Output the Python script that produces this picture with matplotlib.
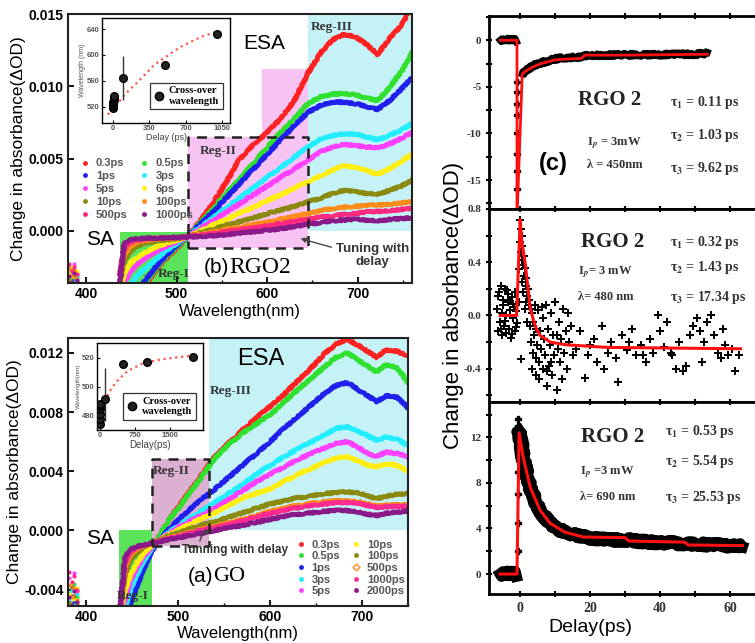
import numpy as np
import matplotlib
matplotlib.use("Agg")
from matplotlib import pyplot as plt
from matplotlib.lines import Line2D
from matplotlib.ticker import MultipleLocator, FormatStrFormatter

plt.rcParams["font.family"] = "Liberation Sans"
plt.rcParams["font.weight"] = "bold"
plt.rcParams["axes.unicode_minus"] = False
plt.rcParams["mathtext.fontset"] = "stix"
SERIF = "Liberation Serif"

# ---------------- panel (b): RGO2 spectra, values in 1e-3 OD
labels_b = ["0.3ps", "0.5ps", "1ps", "3ps", "5ps", "6ps", "10ps", "100ps", "500ps", "1000ps"]
colors_b = ["#ff2222", "#2fe02f", "#2020ee", "#22eeff", "#ff40ff",
            "#ffee11", "#8a8a10", "#ff8c1a", "#ff2a80", "#8a1a8a"]
wl_b = [437, 442, 448, 455, 465, 478, 490, 502, 512, 525, 540, 555, 570, 585,
        600, 615, 630, 645, 660, 672, 685, 698, 710, 722, 735, 748, 760]
red_b = [-8.0, -7.3, -6.3, -5.2, -3.8, -2.6, -1.8, -1.1, -0.4, 0.6, 1.9, 3.4, 5.0, 6.0,
         6.8, 7.8, 9.0, 10.9, 12.4, 13.2, 13.6, 13.4, 12.9, 12.2, 13.3, 14.2, 15.6]
green_b = [-8.0, -6.2, -5.2, -4.4, -3.6, -2.5, -1.7, -1.0, -0.4, 0.5, 1.5, 2.6, 3.6, 4.7,
           5.8, 6.8, 7.8, 8.8, 9.3, 9.45, 9.5, 9.4, 9.2, 9.0, 9.9, 11.0, 12.3]
blue_b = [-8.0, -6.0, -5.0, -4.2, -3.4, -2.4, -1.6, -0.9, -0.4, 0.4, 1.3, 2.3, 3.3, 4.3,
          5.3, 6.3, 7.3, 8.2, 8.7, 8.9, 8.9, 8.8, 8.6, 8.4, 9.0, 9.8, 10.6]
cyan_b = [-7.0, -4.6, -3.8, -3.2, -2.6, -1.9, -1.3, -0.8, -0.4, 0.2, 0.9, 1.6, 2.3, 3.0,
          3.7, 4.4, 5.1, 5.8, 6.4, 6.6, 6.7, 6.7, 6.5, 6.3, 6.6, 7.0, 7.4]
mag_b = [-5.5, -3.6, -2.9, -2.4, -1.9, -1.4, -1.0, -0.7, -0.4, 0.1, 0.7, 1.3, 1.9, 2.5,
         3.1, 3.7, 4.3, 4.9, 5.5, 5.8, 6.0, 5.9, 5.8, 5.75, 6.0, 6.4, 6.8]
yel_b = [-4.5, -2.9, -2.3, -1.9, -1.5, -1.1, -0.8, -0.6, -0.4, -0.05, 0.4, 0.8, 1.25, 1.65,
         2.1, 2.5, 2.95, 3.4, 3.85, 4.2, 4.5, 4.4, 4.2, 3.9, 4.3, 4.8, 5.3]
olive_b = [-3.6, -2.0, -1.5, -1.1, -0.85, -0.7, -0.6, -0.5, -0.4, -0.15, 0.1, 0.4, 0.65, 0.9,
           1.2, 1.45, 1.7, 2.0, 2.3, 2.6, 2.8, 2.7, 2.6, 2.55, 2.8, 3.1, 3.5]
orange_b = [-3.0, -1.6, -1.1, -0.8, -0.65, -0.55, -0.5, -0.45, -0.4, -0.25, -0.1, 0.1, 0.25, 0.45,
            0.6, 0.8, 1.0, 1.2, 1.4, 1.55, 1.65, 1.7, 1.75, 1.8, 1.85, 1.95, 2.0]
pink_b = [-3.0, -1.2, -0.8, -0.65, -0.55, -0.5, -0.45, -0.45, -0.4, -0.3, -0.2, -0.05, 0.1, 0.2,
          0.35, 0.5, 0.65, 0.8, 0.95, 1.05, 1.15, 1.2, 1.3, 1.35, 1.4, 1.5, 1.55]
purple_b = [-3.6, -0.9, -0.6, -0.55, -0.5, -0.5, -0.45, -0.45, -0.4, -0.4, -0.35, -0.25, -0.15, -0.05,
            0.05, 0.15, 0.3, 0.45, 0.6, 0.7, 0.75, 0.8, 0.75, 0.7, 0.8, 0.85, 0.9]
series_b = [red_b, green_b, blue_b, cyan_b, mag_b, yel_b, olive_b, orange_b, pink_b, purple_b]
edge_wl = [381, 384, 387, 390]
edge_b = [[-3.3, -2.6, -3.0, -3.5], [-2.9, -3.4, -2.5, -3.2], [-3.5, -3.0, -3.3, -3.6],
          [-3.2, -2.8, -3.5, -3.1], [-2.4, -2.9, -2.3, -3.0], [-3.0, -2.5, -3.2, -2.8],
          [-3.4, -2.7, -3.1, -3.5], [-2.6, -3.1, -2.7, -3.3], [-2.3, -2.8, -2.5, -3.0],
          [-3.1, -3.5, -2.9, -3.4]]

# inset (b): cross-over wavelength vs delay (error bar on the 100 ps point)
delay_ib = [0.3, 0.5, 1, 3, 5, 6, 10, 100, 500, 1000]
cross_ib = [518, 521, 524, 528, 531, 534, 537, 565, 585, 632]
err_idx_ib = 7
err_ib = [34, 33]
fit_delay_ib = [-50, 20, 120, 230, 400, 645, 850, 1000]
fit_cross_ib = [508, 520, 540, 557, 585, 612, 628, 636]

# ---------------- panel (a): GO spectra, values in 1e-3 OD
labels_a = ["0.3ps", "0.5ps", "1ps", "3ps", "5ps", "10ps", "100ps", "500ps", "1000ps", "2000ps"]
colors_a = ["#ff2222", "#2fe02f", "#2020ee", "#22eeff", "#ff40ff",
            "#ffee11", "#8a8a10", "#ff8c1a", "#ff2a90", "#8a1a8a"]
wl_a = [437, 442, 448, 455, 463, 471, 480, 490, 500, 512, 525, 540, 555, 570,
        585, 600, 615, 630, 645, 660, 672, 684, 696, 706, 716, 726, 738, 750]
red_a = [-7.0, -6.0, -4.8, -3.6, -2.3, -1.2, -0.3, 0.7, 1.6, 2.6, 3.7, 5.0, 5.9, 6.8,
         7.6, 8.4, 9.2, 10.1, 11.0, 12.0, 12.6, 12.9, 12.5, 12.1, 11.7, 12.2, 12.1, 11.8]
green_a = [-7.0, -6.0, -4.8, -3.6, -2.3, -1.2, -0.3, 0.7, 1.5, 2.5, 3.6, 4.9, 5.8, 6.6,
           7.2, 7.8, 8.7, 9.5, 10.3, 11.1, 11.7, 12.0, 11.5, 11.1, 10.7, 11.2, 11.0, 10.0]
blue_a = [-7.0, -6.0, -4.9, -3.8, -2.5, -1.4, -0.6, 0.1, 0.7, 1.4, 2.1, 2.8, 3.6, 4.4,
          5.2, 6.0, 6.9, 7.7, 8.5, 9.3, 9.8, 10.0, 9.5, 9.1, 8.7, 9.1, 9.0, 8.3]
cyan_a = [-6.5, -5.2, -4.0, -3.0, -2.0, -1.2, -0.6, -0.1, 0.3, 0.8, 1.3, 1.9, 2.5, 3.1,
          3.8, 4.4, 5.0, 5.5, 6.0, 6.5, 6.9, 7.0, 6.7, 6.4, 6.1, 6.3, 6.2, 5.7]
mag_a = [-6.0, -4.6, -3.4, -2.5, -1.7, -1.1, -0.6, -0.2, 0.2, 0.6, 1.0, 1.5, 2.1, 2.7,
         3.3, 3.8, 4.3, 4.8, 5.2, 5.6, 5.9, 6.0, 5.6, 5.2, 5.0, 5.3, 5.2, 5.0]
yel_a = [-5.5, -4.0, -3.0, -2.2, -1.5, -1.0, -0.6, -0.3, 0.05, 0.4, 0.8, 1.2, 1.7, 2.2,
         2.5, 2.8, 3.3, 3.8, 4.2, 4.6, 4.9, 5.0, 4.7, 4.4, 4.3, 4.5, 4.4, 4.0]
olive_a = [-5.0, -3.0, -2.0, -1.5, -1.1, -0.85, -0.6, -0.35, -0.15, 0.1, 0.35, 0.6, 0.9, 1.2,
           1.5, 1.8, 2.0, 2.2, 2.35, 2.5, 2.55, 2.6, 2.55, 2.35, 2.15, 2.3, 2.45, 2.5]
orange_a = [-5.0, -2.5, -1.6, -1.25, -1.0, -0.85, -0.7, -0.5, -0.35, -0.15, 0.05, 0.3, 0.5, 0.75,
            1.0, 1.3, 1.5, 1.7, 1.85, 1.95, 2.0, 2.0, 1.95, 1.8, 1.65, 1.7, 1.75, 1.7]
pink_a = [-5.0, -2.2, -1.4, -1.15, -1.0, -0.85, -0.7, -0.55, -0.4, -0.2, 0.0, 0.2, 0.4, 0.65,
          0.9, 1.15, 1.35, 1.55, 1.7, 1.8, 1.85, 1.9, 1.85, 1.7, 1.55, 1.6, 1.65, 1.6]
purple_a = [-5.0, -1.8, -1.25, -1.1, -0.95, -0.85, -0.75, -0.6, -0.5, -0.35, -0.2, 0.0, 0.2, 0.35,
            0.55, 0.75, 0.95, 1.1, 1.2, 1.3, 1.35, 1.35, 1.25, 1.1, 1.0, 1.15, 1.25, 1.3]
series_a = [red_a, green_a, blue_a, cyan_a, mag_a, yel_a, olive_a, orange_a, pink_a, purple_a]
edge_a = [[-4.8, -3.9, -4.4, -5.0], [-4.2, -4.9, -3.6, -4.5], [-5.0, -4.4, -4.8, -5.1],
          [-4.6, -4.0, -5.0, -4.3], [-3.2, -3.8, -2.9, -4.1], [-4.3, -3.5, -4.6, -3.9],
          [-4.9, -3.8, -4.4, -5.0], [-3.7, -4.5, -3.9, -4.7], [-2.8, -3.5, -3.1, -4.0],
          [-4.5, -5.0, -4.1, -4.8]]

# inset (a) (error bar on the 100 ps point)
delay_ia = [0.3, 0.5, 1, 3, 5, 10, 100, 500, 1000, 2000]
cross_ia = [474, 477, 481, 484, 486, 488, 491, 516, 517, 521]
err_idx_ia = 6
err_ia = [15, 22]
fit_delay_ia = [0, 100, 250, 400, 600, 900, 1300, 1800, 2100]
fit_cross_ia = [482, 490, 499, 505, 511, 516, 519, 521, 522]

# ---------------- panel (c): kinetics of RGO2
# 450 nm probe
base1_t = [-5.7, -3.5, -1.0]
base1_v = [0.0, 0.1, 0.0]
drop1_v = [-4.5, -5.5, -6.8, -8.0, -10.0, -12.2, -14.0, -16.0]
decay1_t = [0.6, 1.5, 2.5, 4, 6, 8, 10, 13, 17, 20, 25, 30, 35, 40, 45, 50, 53.5]
decay1_v = [-3.6, -3.3, -3.0, -2.7, -2.4, -2.2, -2.0, -1.9, -1.8, -1.6, -1.6, -1.55,
            -1.6, -1.55, -1.5, -1.5, -1.4]
fit1_t = [-5.7, -0.9, -0.9, 0.6, 2, 4, 6, 8, 10, 14, 17.5, 18.5, 30, 53.5]
fit1_v = [0, 0, -19, -3.6, -3.2, -2.8, -2.5, -2.3, -2.1, -2.0, -1.95, -1.6, -1.6, -1.5]

# 480 nm probe (scattered points)
scat2_t = [-6.5, -6.2, -6.0, -5.8, -5.6, -5.3, -5.1, -4.9, -4.6, -4.4, -4.1, -3.9, -3.6, -3.4,
           -3.1, -2.9, -2.6, -2.4, -2.1, -1.9, -1.6, -1.4, -1.1, -0.9, -6.3, -5.5, -4.8, -4.2,
           -3.7, -3.0, -2.3, -1.7, -1.2,
           -0.4, -0.2, 0.0, 0.1, 0.2, 0.3, 0.4, 0.5, 0.6, 0.8, 1.0, 1.2, 1.4, 1.6, 1.8, 2.0,
           2.2, 2.4, 0.2, 0.5, 0.9, 1.3, 1.7, 2.1,
           2.6, 2.8, 3.0, 3.2, 3.4, 3.6, 3.8, 4.0, 4.2, 4.4, 4.6, 4.8, 5.0, 5.3, 5.6, 5.9, 6.2,
           6.5, 6.8, 7.1, 7.4, 7.7, 8.0, 8.3, 8.6, 8.9, 9.2, 9.5, 9.8, 10.1, 10.4, 10.7, 11.0,
           11.4, 11.8, 12.2, 12.6, 13.0, 13.5, 14.0, 14.5, 15.0, 3.3, 4.5, 5.5, 6.6, 7.6, 8.8,
           10.5, 12.0, 13.8,
           16, 17, 18.5, 19.5, 21, 22, 23.5, 25, 26, 27.5, 28, 29, 30.5, 32, 33, 34.5, 36, 37,
           38, 39.5, 41, 42, 43.5, 44.5, 45.5, 46.5, 47.5, 48.5, 49.5, 50.5, 51.5, 52.5, 53.5,
           54.5, 55.5, 56.5, 57.5, 58.5, 59.5, 60.5, 61.5, 62.5, 20, 24, 31, 35, 40, 43, 52, 58]
scat2_v = [0.05, -0.12, 0.18, -0.05, 0.22, 0.02, -0.15, 0.12, -0.08, 0.20, 0.00, -0.13, 0.10,
           0.16, -0.10, 0.04, -0.17, 0.14, -0.02, 0.09, -0.12, 0.18, 0.03, -0.06, 0.15, -0.10,
           0.08, -0.04, 0.19, 0.11, -0.14, 0.06, -0.09,
           0.10, 0.35, 0.55, 0.72, 0.65, 0.48, 0.60, 0.42, 0.52, 0.38, 0.45, 0.30, 0.36, 0.22,
           0.28, 0.15, 0.20, 0.08, -0.33, 0.25, 0.18, 0.05, 0.10, -0.05,
           0.12, -0.08, 0.05, -0.20, 0.02, -0.28, -0.05, -0.15, 0.08, -0.32, -0.10, -0.22, 0.04,
           -0.35, -0.12, -0.25, 0.06, -0.40, -0.18, -0.30, 0.08, -0.53, -0.10, -0.38, -0.22,
           0.02, -0.45, -0.15, -0.30, 0.10, -0.56, -0.25, -0.05, -0.35, -0.18, 0.05, -0.28,
           -0.12, -0.40, -0.20, -0.08, -0.30, -0.40, -0.45, -0.48, -0.02, -0.42, -0.35, -0.15,
           -0.48, 0.02,
           -0.25, -0.12, -0.47, -0.30, -0.18, -0.35, -0.08, -0.28, -0.20, -0.32, -0.50, -0.15,
           -0.26, -0.10, -0.30, -0.22, -0.35, -0.18, -0.28, 0.00, -0.24, -0.05, -0.30, -0.40,
           -0.20, -0.42, -0.38, -0.15, -0.08, -0.02, -0.12, -0.20, -0.05, 0.00, -0.15, -0.28,
           -0.32, -0.22, -0.30, -0.25, -0.42, -0.30, -0.22, -0.40, -0.20, -0.30, -0.12, -0.28,
           -0.35, -0.10]
fit2_t = [-5.7, -1.0, 0.0, 0.5, 1.4, 2.9, 4.3, 5.7, 8.6, 13, 25, 63]
fit2_v = [0, 0, 0.72, 0.55, 0.4, 0.05, -0.08, -0.15, -0.2, -0.22, -0.24, -0.25]

# 690 nm probe
base3_t = [-5.7, -3.5, -1.0]
base3_v = [0.0, 0.1, 0.0]
rise3_v = [2.0, 4.5, 7.0, 9.0, 11.0, 13.0, 13.6]
decay3_t = [-0.3, 0.3, 0.9, 1.5, 2.2, 2.9, 4, 5, 5.7, 7, 8.6, 10.5, 12.6, 15, 18, 22, 26,
            30, 35, 40, 45, 50, 55, 60, 63.5]
decay3_v = [12.6, 11.5, 10.2, 9.2, 8.3, 7.6, 6.6, 6.0, 5.6, 5.0, 4.45, 4.0, 3.7, 3.45, 3.25,
            3.1, 3.0, 3.0, 2.85, 2.75, 2.7, 2.65, 2.55, 2.5, 2.5]
fit3_t = [-5.7, -0.9, -0.3, 0.9, 2.9, 5.7, 8.6, 12.6, 18, 30, 31, 47, 48, 63.5]
fit3_v = [0, 0, 12.4, 10.2, 7.6, 5.6, 4.45, 3.7, 3.25, 3.2, 2.9, 2.8, 2.55, 2.5]


def rect(l, t, r, b):
    return [l / 755, 1 - b / 643, (r - l) / 755, (b - t) / 643]


def style_spec(ax):
    for s in ax.spines.values():
        s.set_linewidth(1.5)
        s.set_color("#222222")
    ax.tick_params(direction="in", length=4, width=1.3, labelsize=10, pad=3)
    ax.tick_params(which="minor", direction="in", length=2.5, width=1)
    ax.xaxis.set_minor_locator(MultipleLocator(50))
    ax.yaxis.set_major_formatter(FormatStrFormatter("%.3f"))


def draw_spec(ax, wl, series, colors, edges):
    for vals, ev, col in zip(series, edges, colors):
        ln, = ax.plot(wl, np.array(vals) * 1e-3, color=col, lw=3.2, zorder=2)
        ln.set_sketch_params(scale=0.9, length=1.5, randomness=3)
        ax.plot(edge_wl, np.array(ev) * 1e-3, "o", color=col, ms=3, mew=0, zorder=2)


def draw_inset(rc, delay, cross, ei, err, fd, fc, xt, yt, xlim, ylim, xl, yl, xfs, yfs, leg_anchor):
    ai = fig.add_axes(rc)
    ai.plot(fd, fc, ":", color="#ff5555", lw=1.6, zorder=1)
    ai.errorbar([delay[ei]], [cross[ei]], yerr=[[err[0]], [err[1]]],
                fmt="none", ecolor="#333333", elinewidth=1, zorder=1)
    ai.plot(delay, cross, "o", color="#222222", mec="k", ms=5.5, zorder=3)
    ai.set_xticks(xt)
    ai.set_yticks(yt)
    ai.set_xlim(*xlim)
    ai.set_ylim(*ylim)
    ai.tick_params(direction="in", length=2, width=0.8, labelsize=5.5, pad=1.5,
                   labelcolor="#555555")
    for s in ai.spines.values():
        s.set_linewidth(1)
    ai.set_xlabel(xl, fontsize=xfs, labelpad=0.5, color="#444444")
    ai.set_ylabel(yl, fontsize=yfs, labelpad=1, color="#555555")
    h = Line2D([], [], marker="o", ls="none", color="#222222", mec="k", ms=6)
    lg = ai.legend([h], ["Cross-over\nwavelength"], loc="lower right", bbox_to_anchor=leg_anchor,
                   frameon=True, fancybox=False, edgecolor="k", handletextpad=0.5,
                   borderpad=0.35, handlelength=1.0,
                   prop={"family": SERIF, "weight": "bold", "size": 7.5})
    lg.get_frame().set_linewidth(0.9)
    return ai


fig = plt.figure(figsize=(7.55, 6.43), dpi=100)

# ================= panel (b)
axb = fig.add_axes(rect(68, 14, 412, 283))
axb.fill_between([437, 513], -0.0036, -0.0001, color="#5be35b", lw=0, zorder=0)
axb.fill_between([513, 645], -0.00117, 0.0065, color="#f6c3f2", lw=0, zorder=0)
axb.fill_between([594, 645], 0.0065, 0.0112, color="#f6c3f2", lw=0, zorder=0)
axb.fill_between([645, 760], 0.0, 0.015, color="#c4f2f7", lw=0, zorder=0)
draw_spec(axb, wl_b, series_b, colors_b, edge_b)
axb.plot([513, 645, 645, 513, 513], [-0.00117, -0.00117, 0.0065, 0.0065, -0.00117],
         ls=(0, (4, 3)), color="#222222", lw=1.8, zorder=3)
axb.set_xlim(380, 760)
axb.set_ylim(-0.0036, 0.015)
axb.set_xticks([400, 500, 600, 700])
axb.set_yticks([0.0, 0.005, 0.010, 0.015])
style_spec(axb)
axb.set_xlabel("Wavelength(nm)", fontsize=12, labelpad=2)
axb.set_ylabel("Change in absorbance(ΔOD)", fontsize=12.5, labelpad=2)
axb.text(597, 0.01295, "ESA", fontsize=15, weight="normal", ha="center", va="center")
axb.text(415, -0.0006, "SA", fontsize=15, weight="normal", ha="center", va="center")
axb.text(671, 0.0141, "Reg-III", family=SERIF, fontsize=9.5, ha="center", va="center", color="#333333")
axb.text(546, 0.0055, "Reg-II", family=SERIF, fontsize=9.5, ha="center", va="center", color="#333333")
axb.text(497, -0.0030, "Reg-I", family=SERIF, fontsize=9.5, ha="center", va="center", color="#333333")
axb.text(558, -0.0025, "(b)", fontsize=15, weight="normal", ha="right", va="center")
axb.text(558, -0.0025, "RGO2", family=SERIF, fontsize=17, weight="normal", ha="left", va="center")
axb.text(716, -0.0017, "Tuning with\ndelay", fontsize=9.5, ha="center", va="center",
         color="#333333", linespacing=1.1)
axb.annotate("", xy=(634, -0.00048), xytext=(674, -0.00118),
             arrowprops=dict(arrowstyle="-|>", color="#444444", lw=1, mutation_scale=7))
hb = [Line2D([], [], marker="o", ls="none", color=c, ms=3.5, mew=0) for c in colors_b]
order_b = [0, 2, 4, 6, 8, 1, 3, 5, 7, 9]
axb.legend([hb[i] for i in order_b], [labels_b[i] for i in order_b], ncol=2,
           loc="upper left", bbox_to_anchor=(0.0, 0.50), frameon=False,
           handletextpad=0.4, columnspacing=0.9, labelspacing=0.25, handlelength=1.2,
           prop={"size": 8}, labelcolor="#555555")
draw_inset(rect(102, 18, 230, 123), delay_ib, cross_ib, err_idx_ib, err_ib,
           fit_delay_ib, fit_cross_ib,
           [0, 350, 700, 1050], [520, 560, 600, 640], (-106, 1127), (495, 657),
           "Delay (ps)", "Wavelength (nm)", 6.5, 5, (0.985, 0.08))

# ================= panel (a)
axa = fig.add_axes(rect(68, 338, 408, 606))
axa.fill_between([435, 471], -0.0052, 0.0, color="#5be35b", lw=0, zorder=0)
axa.fill_between([471, 533], -0.00105, 0.0048, color="#dcb0d0", lw=0, zorder=0)
axa.fill_between([533, 750], 0.0, 0.0131, color="#c4f2f7", lw=0, zorder=0)
draw_spec(axa, wl_a, series_a, colors_a, edge_a)
axa.plot([471, 533, 533, 471, 471], [-0.00105, -0.00105, 0.0048, 0.0048, -0.00105],
         ls=(0, (4, 3)), color="#222222", lw=1.8, zorder=3)
axa.set_xlim(380, 750)
axa.set_ylim(-0.0051, 0.013)
axa.set_xticks([400, 500, 600, 700])
axa.set_yticks([-0.004, 0.0, 0.004, 0.008, 0.012])
style_spec(axa)
axa.set_xlabel("Wavelength(nm)", fontsize=12, labelpad=1)
axa.set_ylabel("Change in absorbance(ΔOD)", fontsize=12.5, labelpad=2)
axa.text(590, 0.01156, "ESA", fontsize=17, weight="normal", ha="center", va="center")
axa.text(415, -0.00054, "SA", fontsize=15, weight="normal", ha="center", va="center")
axa.text(557, 0.0094, "Reg-III", family=SERIF, fontsize=9.5, ha="center", va="center", color="#333333")
axa.text(492, 0.0040, "Reg-II", family=SERIF, fontsize=9.5, ha="center", va="center", color="#333333")
axa.text(450, -0.0044, "Reg-I", family=SERIF, fontsize=9.5, ha="center", va="center", color="#333333")
axa.text(538, -0.0031, "(a)", fontsize=15, weight="normal", ha="right", va="center")
axa.text(538, -0.0031, "GO", family=SERIF, fontsize=16, weight="normal", ha="left", va="center")
axa.text(562, -0.00135, "Tunning with delay", fontsize=8.5, ha="center", va="center",
         color="#333333")
axa.annotate("", xy=(537, 0.0), xytext=(523, -0.0009),
             arrowprops=dict(arrowstyle="-|>", color="#444444", lw=1, mutation_scale=7,
                             connectionstyle="arc3,rad=-0.4"))
ha_ = [Line2D([], [], marker="o", ls="none", color=c, ms=3.5, mew=0) for c in colors_a]
ha_[7] = Line2D([], [], marker="D", ls="none", mfc="none", mec=colors_a[7], ms=3.5, mew=1)
axa.legend(ha_, labels_a, ncol=2, loc="upper left", bbox_to_anchor=(0.635, 0.285),
           frameon=False, handletextpad=0.4, columnspacing=0.8, labelspacing=0.15,
           handlelength=1.2, prop={"size": 8}, labelcolor="#555555")
draw_inset(rect(97, 343, 203, 430), delay_ia, cross_ia, err_idx_ia, err_ia,
           fit_delay_ia, fit_cross_ia,
           [0, 750, 1500], [480, 500, 520], (-64, 2207), (469.5, 530.5),
           "Delay(ps)", "Wavelength(nm)", 7, 4.5, (0.985, 0.06))

# ================= panel (c)
ac1 = fig.add_axes(rect(489, 16, 770, 209))
ac2 = fig.add_axes(rect(489, 209, 770, 402), sharex=ac1)
ac3 = fig.add_axes(rect(489, 402, 770, 594), sharex=ac1)

for t, v in [(base1_t, base1_v), (decay1_t, decay1_v)]:
    ln, = ac1.plot(t, v, color="k", lw=5, zorder=2)
    ln.set_sketch_params(scale=1.6, length=1.5, randomness=3)
ac1.plot([-0.9] * len(drop1_v), drop1_v, "P", color="k", ms=4, zorder=2)
ac1.plot(fit1_t, fit1_v, color="#ff1010", lw=2, zorder=3)
ac1.set_ylim(-18.1, 2.6)
ac1.yaxis.set_major_locator(MultipleLocator(5))
ac1.yaxis.set_minor_locator(MultipleLocator(2.5))
ac1.yaxis.set_major_formatter(FormatStrFormatter("%d"))

ac2.plot(scat2_t, scat2_v, "P", color="k", ms=5.5, mew=0, zorder=2)
ac2.plot(fit2_t, fit2_v, color="#ff1010", lw=2.2, zorder=3)
ac2.set_ylim(-0.65, 0.8)
ac2.yaxis.set_major_locator(MultipleLocator(0.4))
ac2.yaxis.set_minor_locator(MultipleLocator(0.2))
ac2.yaxis.set_major_formatter(FormatStrFormatter("%.1f"))

for t, v in [(base3_t, base3_v), (decay3_t, decay3_v)]:
    ln, = ac3.plot(t, v, color="k", lw=8, zorder=2)
    ln.set_sketch_params(scale=2.5, length=1.5, randomness=3)
ac3.plot([-0.5] * len(rise3_v), rise3_v, "P", color="k", ms=5, zorder=2)
ac3.plot(fit3_t, fit3_v, color="#ff1010", lw=2.2, zorder=3)
ac3.set_ylim(-1.75, 15.1)
ac3.yaxis.set_major_locator(MultipleLocator(4))
ac3.yaxis.set_minor_locator(MultipleLocator(2))
ac3.yaxis.set_major_formatter(FormatStrFormatter("%d"))

ac1.set_xlim(-8.9, 71.4)
ac3.xaxis.set_major_locator(MultipleLocator(20))
ac3.xaxis.set_minor_locator(MultipleLocator(10))
for ax in (ac1, ac2, ac3):
    for s in ax.spines.values():
        s.set_linewidth(2)
    ax.tick_params(which="both", direction="inout", top=True, width=1.5)
    ax.tick_params(which="major", length=5, labelsize=8, pad=3, labelcolor="#333333")
    ax.tick_params(which="minor", length=4)
    for lab in ax.get_yticklabels() + ax.get_xticklabels():
        lab.set_fontfamily(SERIF)
ac1.tick_params(labelbottom=False)
ac2.tick_params(labelbottom=False)
ac3.tick_params(axis="x", labelsize=10, pad=3)

txt_c = [
    (ac1, "I$_p$ = 3mW", "λ = 450nm", ["τ$_1$ = 0.11 ps", "τ$_2$ = 1.03 ps", "τ$_3$ = 9.62 ps"],
     (0.431, 0.565), (0.349, 0.342, 0.228), [0.554, 0.383, 0.212], 0.644),
    (ac2, "I$_p$= 3 mW", "λ= 480 nm", ["τ$_1$ = 0.32 ps", "τ$_2$ = 1.43 ps", "τ$_3$ = 17.34 ps"],
     (0.441, 0.829), (0.317, 0.674, 0.544), [0.829, 0.699, 0.544], 0.644),
    (ac3, "I$_p$ =3 mW", "λ= 690 nm", ["τ$_1$ = 0.53 ps", "τ$_2$ = 5.54 ps", "τ$_3$ = 25.53 ps"],
     (0.441, 0.818), (0.324, 0.635, 0.505), [0.844, 0.688, 0.505], 0.626),
]
for ax, ip, lam, taus, rgo_xy, ip_xy, tau_y, tau_x in txt_c:
    ax.text(*rgo_xy, "RGO 2", transform=ax.transAxes, family=SERIF, fontsize=15,
            ha="center", va="center", color="#222222")
    ax.text(ip_xy[0], ip_xy[1], ip, transform=ax.transAxes, family=SERIF, fontsize=9,
            ha="left", va="center", color="#333333")
    ax.text(ip_xy[0], ip_xy[2], lam, transform=ax.transAxes, family=SERIF, fontsize=9,
            ha="left", va="center", color="#333333")
    for ty, tx in zip(tau_y, taus):
        ax.text(tau_x, ty, tx, transform=ax.transAxes, family=SERIF, fontsize=10,
                ha="left", va="center", color="#333333")
ac1.text(0.228, 0.238, "(c)", transform=ac1.transAxes, fontsize=17, ha="center", va="center")

fig.text(453 / 755, 1 - 305 / 643, "Change in absorbance(ΔOD)", rotation=90, fontsize=16,
         weight="normal", ha="center", va="center")
fig.text(590 / 755, 1 - 627 / 643, "Delay(ps)", fontsize=14, weight="normal",
         ha="center", va="center")

fig.savefig("out.png", dpi=100)
